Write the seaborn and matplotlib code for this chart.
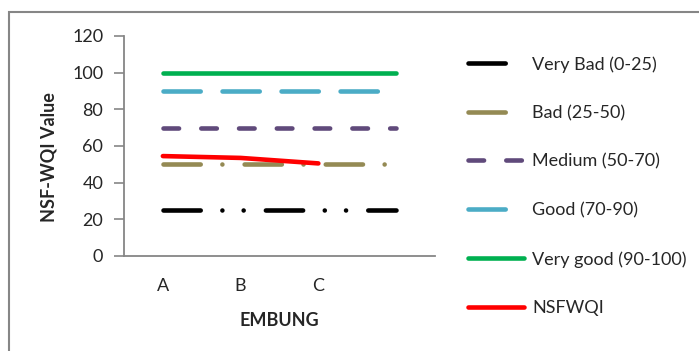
import matplotlib
matplotlib.use("Agg")
import matplotlib.pyplot as plt
import seaborn as sns
from matplotlib.patches import Rectangle

# categories on the x axis (last slot is unlabeled in the original)
categories = ["A", "B", "C", ""]
very_bad = [25, 25, 25, 25]
bad = [50, 50, 50, 50]
medium = [70, 70, 70, 70]
good = [90, 90, 90, 90]
very_good = [100, 100, 100, 100]
nsfwqi = [54.5, 53.5, 50.5]

labels = ["Very Bad (0-25)", "Bad (25-50)", "Medium (50-70)",
          "Good (70-90)", "Very good (90-100)", "NSFWQI"]

sns.set_style("white")
plt.rcParams["font.family"] = ["Lato", "DejaVu Sans"]
plt.rcParams["lines.scale_dashes"] = False

fig = plt.figure(figsize=(6.99, 3.51), dpi=100)
ax = fig.add_axes([124 / 699, 1 - 256 / 351, (435 - 124) / 699, (256 - 36) / 351])

lw = 3.3
grey = "#868686"
styles = [
    ("#000000", (0, (26.8, 15.6, 0.01, 15.3, 0.01, 16.0))),
    ("#948A54", (0, (26.8, 15.6, 0.01, 16.0))),
    ("#604A7B", (0, (11.2, 16.0))),
    ("#4BACC6", (0, (26.8, 15.7))),
    ("#00B050", "-"),
]
series = [very_bad, bad, medium, good, very_good]
x_all = list(range(len(categories)))

for vals, (col, ls), lab in zip(series, styles, labels):
    sns.lineplot(x=x_all, y=vals, ax=ax, color=col, linewidth=lw,
                 linestyle=ls, label=lab, dash_capstyle="round",
                 solid_capstyle="round")

sns.lineplot(x=x_all[:len(nsfwqi)], y=nsfwqi, ax=ax, color="#FF0000",
             linewidth=lw, label=labels[-1], solid_capstyle="round")

ax.set_xlim(-0.5, len(categories) - 0.5)
ax.set_ylim(0, 120)
ax.set_yticks(range(0, 121, 20))
ax.set_xticks(x_all)
ax.set_xticklabels(categories)
ax.tick_params(axis="y", length=7, width=1.2, color=grey, labelsize=13,
               pad=8, left=True, direction="out")
ax.tick_params(axis="x", length=0, labelsize=13, pad=16)

for side in ["top", "right"]:
    ax.spines[side].set_visible(False)
for side in ["left", "bottom"]:
    ax.spines[side].set_color(grey)
    ax.spines[side].set_linewidth(1.3)

ax.set_xlabel("EMBUNG", fontsize=13, fontweight="bold", labelpad=13)
ax.set_ylabel("NSF-WQI Value", fontsize=13, fontweight="bold")
ax.yaxis.set_label_coords(-0.215, 0.45)

leg = ax.legend(loc="upper left", bbox_to_anchor=(468 / 699, 1 - 56 / 351),
                bbox_transform=fig.transFigure, frameon=False, fontsize=13,
                handlelength=3.1, handletextpad=0.45, labelspacing=1.8,
                borderpad=0, borderaxespad=0)

# outer chart border (only left and top edges visible in the original)
fig.patches.append(Rectangle((9 / 699, -0.1), 1.2, 1.1 - 12 / 351,
                             transform=fig.transFigure, fill=False,
                             edgecolor=grey, linewidth=1.5, clip_on=False))

fig.savefig("out.png", dpi=100)
